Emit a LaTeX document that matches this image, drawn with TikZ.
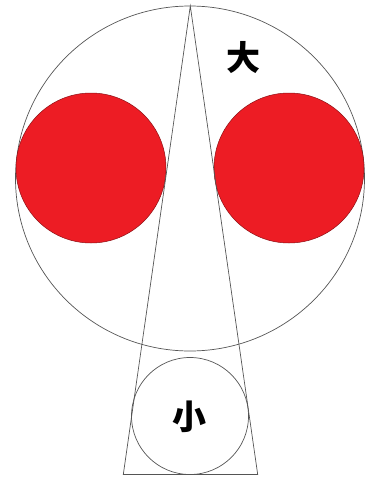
\documentclass[tikz,border=0pt]{standalone}
\usepackage{fontspec}
\newfontfamily\cjk{Noto Sans CJK SC}
\usetikzlibrary{shapes.geometric}
\definecolor{eyered}{HTML}{ED1C24}
\definecolor{linegray}{HTML}{555555}
\begin{document}
\begin{tikzpicture}[x=1pt,y=-1pt,
  outline/.style={draw=linegray,line width=0.7pt},
  eye/.style={circle,fill=eyered,draw=eyered!60!black,line width=0.5pt,minimum size=150pt,inner sep=0pt},
  hanzi/.style={font=\cjk\bfseries\fontsize{34pt}{34pt}\selectfont,inner sep=0pt}]
\useasboundingbox (0,0) rectangle (369,479);
\node[ellipse,outline,minimum width=349pt,minimum height=345pt,inner sep=0pt] (big) at (190,178.5) {};
\node[eye] (leye) at (91,168) {};
\node[eye] (reye) at (289,168) {};
\coordinate (apex) at (190.3,6);
\coordinate (bl) at (123.3,474.5);
\coordinate (br) at (257.7,474.5);
\draw[outline] (apex) -- (bl) -- (br) -- cycle;
\node[circle,outline,minimum size=117pt,inner sep=0pt] (small) at (190,416) {};
\node[hanzi] (da) at (243,58) {大};
\node[hanzi] (xiao) at (189,417) {小};
\end{tikzpicture}
\end{document}
